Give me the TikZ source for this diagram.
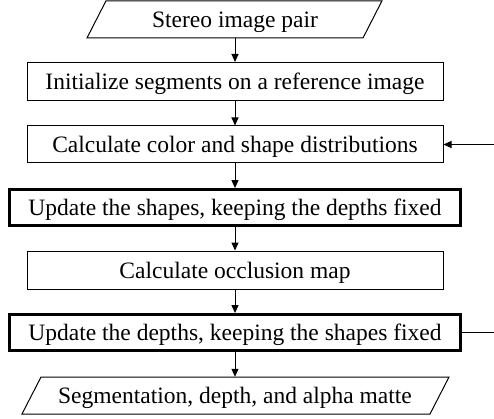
\documentclass[tikz,border=0pt]{standalone}
\usepackage{fontspec}
\setmainfont{Liberation Serif}
\usetikzlibrary{arrows.meta}
\begin{document}
\begin{tikzpicture}[x=1pt,y=-1pt,
  every node/.style={font=\fontsize{23.5}{28}\selectfont, inner sep=0pt, text height=16pt, text depth=0pt},
  box/.style={draw, line width=1pt, minimum width=416pt, minimum height=38pt},
  thickbox/.style={draw, line width=2.8pt, minimum width=451.5pt, minimum height=36pt},
  io/.style={minimum width=270pt, minimum height=37pt},
  para/.style={line width=1pt, line join=miter},
  flow/.style={-{Triangle[length=8pt,width=7pt]}, line width=1pt},
  plain/.style={line width=1pt}]
\useasboundingbox (0,0) rectangle (494,419);
% input parallelogram
\draw[para] (106,0.8) -- (382,0.8) -- (363,38) -- (87,38) -- cycle;
\node[io] (in) at (235,19.4) {Stereo image pair};
\node[box] (b2) at (235,81.5) {Initialize segments on a reference image};
\node[box, minimum height=37pt] (b3) at (235,144.5) {Calculate color and shape distributions};
\node[thickbox] (b4) at (235,207.5) {Update the shapes, keeping the depths fixed};
\node[box] (b5) at (235,270) {Calculate occlusion map};
\node[thickbox] (b6) at (235,332.5) {Update the depths, keeping the shapes fixed};
% output parallelogram
\draw[para] (41,377) -- (449,377) -- (430,414) -- (22,414) -- cycle;
\node[io] (out) at (235,395.5) {Segmentation, depth, and alpha matte};
\coordinate (fbin) at (494,144.5);
\coordinate (fbout) at (494,332.5);
\draw[flow] (in) -- (b2);
\draw[flow] (b2) -- (b3);
\draw[flow] (b3) -- (b4);
\draw[flow] (b4) -- (b5);
\draw[flow] (b5) -- (b6);
\draw[flow] (b6) -- (out);
\draw[flow] (fbin) -- (b3);
\draw[plain] (b6) -- (fbout);
\end{tikzpicture}
\end{document}
